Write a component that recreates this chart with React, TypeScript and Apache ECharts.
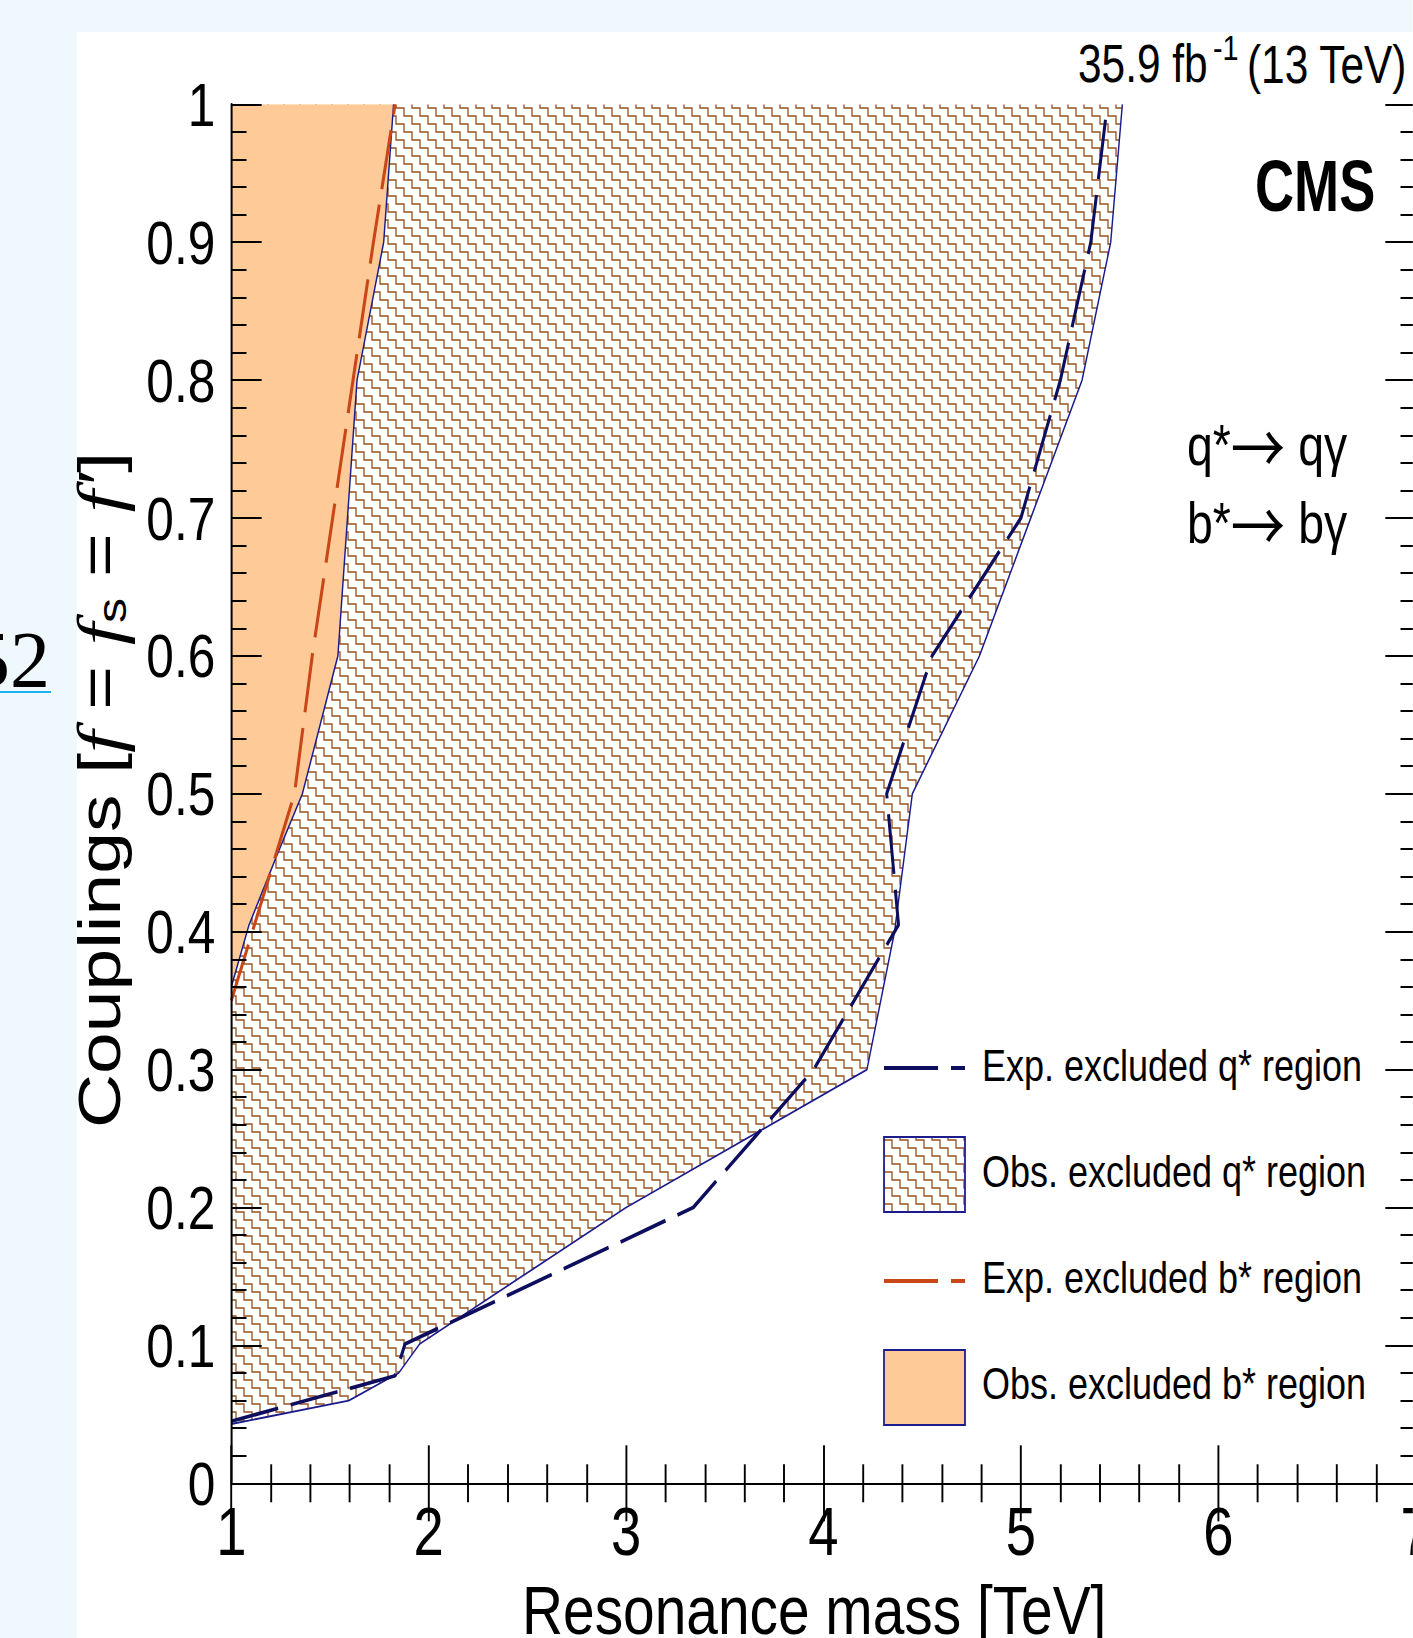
import React, { useEffect, useRef } from 'react';
import * as echarts from 'echarts';

// ---------- data ----------
// Observed excluded q* region boundary (mass TeV, coupling)
const obsQMass = [1.0, 1.595, 1.848, 1.954, 3.0, 4.22, 4.36, 4.45, 4.79, 5.05, 5.31, 5.455, 5.514];
const obsQCoup = [0.043, 0.06, 0.08, 0.101, 0.2, 0.3, 0.4, 0.5, 0.6, 0.7, 0.8, 0.9, 1.0];
// Expected excluded q* region boundary
const expQMass = [1.0, 1.83, 1.88, 3.34, 3.95, 4.38, 4.32, 4.55, 5.0, 5.2, 5.354, 5.438];
const expQCoup = [0.045, 0.078, 0.101, 0.2, 0.3, 0.405, 0.5, 0.6, 0.7, 0.8, 0.9, 1.0];
// Observed excluded b* region boundary
const obsBMass = [1.0, 1.09, 1.23, 1.36, 1.54, 1.637, 1.772, 1.822];
const obsBCoup = [0.36, 0.405, 0.455, 0.5, 0.6, 0.8, 0.9, 1.0];
// Expected excluded b* region boundary
const expBMass = [1.0, 1.32, 1.41, 1.72, 1.83];
const expBCoup = [0.35, 0.5, 0.6, 0.9, 1.0];

const xRange = [1, 7];
const yRange = [0, 1];
const legendLabels = [
  'Exp. excluded q* region',
  'Obs. excluded q* region',
  'Exp. excluded b* region',
  'Obs. excluded b* region',
];

// ---------- styles ----------
// The reference picture is squeezed horizontally; the chart is drawn wider and compressed by K.
const K = 0.8;
const L = (v: number) => v / K; // screen x (px) -> local chart x
const PAGE_W = 1413;
const PAGE_H = 1638;

const SANS = "'Liberation Sans', Arial, Helvetica, sans-serif";
const SERIF = "'Liberation Serif', 'Times New Roman', serif";
const ARROW = "'Noto Sans CJK JP', 'DejaVu Sans', sans-serif";
const NAVY_SOLID = '#1b1b8c';
const NAVY_DASH = '#0e0e5e';
const ORANGE_DASH = '#c94716';
const ORANGE_FILL = '#fdca98';
const HATCH = '#93521f';
const DASH = [60, 16];

const zip = (a: number[], b: number[]) => a.map((v, i) => [v, b[i]]);

const S = 8; // stair step on screen
const SX = S / K;
const TW = 2 * SX;
const TH = 2 * S;
const hx = SX / 2;
const hy = S / 2;
const hatchSvg =
  `<svg xmlns='http://www.w3.org/2000/svg' width='${TW}' height='${TH}'>` +
  `<path d='M${hx} 0V${hy}H${hx + SX}V${hy + S}H${TW}M0 ${hy + S}H${hx}V${TH}' stroke='${HATCH}' stroke-width='1.65' fill='none'/></svg>`;
const hatchURL = 'data:image/svg+xml;charset=utf-8,' + encodeURIComponent(hatchSvg);
const hatchPattern: any = { image: hatchURL, repeat: 'repeat', imageWidth: TW, imageHeight: TH };

function txt(text: string, xScreen: number, y: number, fontSize: number, o: any = {}) {
  const align = o.align || 'left';
  return {
    type: 'text',
    x: L(xScreen),
    y,
    scaleX: o.sx ?? 1,
    z: 30,
    silent: true,
    style: {
      text,
      fontSize,
      fontFamily: o.font || SANS,
      fontWeight: o.bold ? 'bold' : 'normal',
      fill: '#000',
      align,
      textAlign: align,
      verticalAlign: 'middle',
      textVerticalAlign: 'middle',
      rich: o.rich,
    },
  };
}

export default function App() {
  const ref = useRef<HTMLDivElement>(null);
  useEffect(() => {
    if (!ref.current) return;
    const chart = echarts.init(ref.current, undefined, { renderer: 'svg' });

    const obsQ = zip(obsQMass, obsQCoup);
    const expQ = zip(expQMass, expQCoup);
    const obsB = zip(obsBMass, obsBCoup);
    const expB = zip(expBMass, expBCoup);

    const polygonSeries = (name: string, pts: number[][], fill: any, z: number) => ({
      type: 'custom',
      name,
      z,
      clip: true,
      silent: true,
      data: [[xRange[0], yRange[1]]],
      renderItem: (_p: any, api: any) => {
        const points = pts.map((p) => api.coord(p));
        points.push(api.coord([xRange[0], yRange[1]]));
        return { type: 'polygon', shape: { points }, style: { fill, stroke: 'none' } };
      },
    });

    const lineSeries = (name: string, pts: number[][], color: string, width: number, type: any, z: number) => ({
      type: 'line',
      name,
      z,
      data: pts,
      symbol: 'none',
      showSymbol: false,
      silent: true,
      lineStyle: { color, width, type, cap: 'butt' },
    });

    const axisCommon = (lineW: number, tickW: number) => ({
      axisLine: { show: true, lineStyle: { color: '#000', width: lineW } },
      axisTick: { show: true, inside: true, length: 38, lineStyle: { color: '#000', width: tickW } },
      minorTick: { show: true, splitNumber: 5, length: 19, lineStyle: { color: '#000', width: tickW } },
      splitLine: { show: false },
      z: 10,
    });

    const xBase = { type: 'value', min: xRange[0], max: xRange[1], interval: 1, ...axisCommon(2, 2.4) };
    const yBase = { type: 'value', min: yRange[0], max: yRange[1], interval: 0.1, ...axisCommon(2.5, 2) };

    const legendX = L(884);
    const legendW = L(965) - L(884);
    const rows = [1066, 1172, 1278, 1384];
    const arrowRich = {
      t: { fontSize: 58, fontFamily: SANS, fill: '#000', lineHeight: 56 },
      a: { fontSize: 68, fontFamily: ARROW, fill: '#000', lineHeight: 56 },
    };

    const option: any = {
      animation: false,
      backgroundColor: '#eff8fc',
      grid: {
        left: L(231.3),
        top: 104.3,
        width: L(1184.4),
        height: 1379,
        containLabel: false,
        outerBoundsMode: 'none',
      },
      xAxis: [
        {
          ...xBase,
          position: 'bottom',
          axisLabel: { fontSize: 68, color: '#000', fontFamily: SANS, margin: 48, verticalAlign: 'middle' },
        },
        { ...xBase, position: 'top', axisLabel: { show: false } },
      ],
      yAxis: [
        {
          ...yBase,
          position: 'left',
          axisLabel: { fontSize: 62, color: '#000', fontFamily: SANS, margin: L(16), verticalAlign: 'middle' },
        },
        { ...yBase, position: 'right', axisLabel: { show: false } },
      ],
      series: [
        polygonSeries(legendLabels[1], obsQ, hatchPattern, 2),
        polygonSeries(legendLabels[3], obsB, ORANGE_FILL, 3),
        lineSeries('obsQ boundary', obsQ, NAVY_SOLID, 1.8, 'solid', 4),
        lineSeries('obsB boundary', obsB, NAVY_SOLID, 1.8, 'solid', 4),
        lineSeries(legendLabels[0], expQ, NAVY_DASH, 3.8, DASH, 5),
        lineSeries(legendLabels[2], expB, ORANGE_DASH, 3.8, DASH, 5),
      ],
      graphic: [
        { type: 'rect', z: -10, silent: true, shape: { x: L(77), y: 32, width: L(1400), height: 1700 }, style: { fill: '#ffffff' } },
        // fragment of the surrounding page: "52"
        {
          type: 'text', x: L(-30), y: 660, scaleX: 1 / K, z: 30, silent: true,
          style: { text: '52', fontSize: 80, fontFamily: SERIF, fill: '#000', align: 'left', textAlign: 'left', verticalAlign: 'middle', textVerticalAlign: 'middle' },
        },
        { type: 'line', z: 30, silent: true, shape: { x1: 0, y1: 692, x2: L(51), y2: 692 }, style: { stroke: '#1ab2f0', lineWidth: 2 } },
        // luminosity label
        txt('35.9 fb', 1078, 64, 53),
        txt('-1', 1213, 47, 36),
        txt('(13 TeV)', 1247, 65, 53),
        // CMS
        txt('CMS', 1255, 186, 72, { bold: true, sx: 0.94 }),
        // process labels
        txt('{t|q*}{a|\u2192}{t| q\u03b3}', 1187, 445, 58, { rich: arrowRich }),
        txt('{t|b*}{a|\u2192}{t| b\u03b3}', 1187, 523, 58, { rich: arrowRich }),
        // x-axis title
        txt('Resonance mass [TeV]', 522, 1610, 68, { sx: 1.045 }),
        // y-axis title
        {
          type: 'text', x: L(99), y: 790, rotation: Math.PI / 2, z: 30, silent: true,
          style: {
            text: '{n|Couplings [}{i|f}{n| = }{i|f}{s|s}{n| = }{i|f\u2032}{n|]}',
            fill: '#000',
            align: 'center', textAlign: 'center', verticalAlign: 'middle', textVerticalAlign: 'middle',
            rich: {
              n: { fontSize: 75, fontFamily: SANS, fill: '#000', lineHeight: 82 },
              i: { fontSize: 80, fontFamily: SERIF, fontStyle: 'italic', fill: '#000', lineHeight: 82 },
              s: { fontSize: 50, fontFamily: SANS, fill: '#000', lineHeight: 58, verticalAlign: 'bottom' },
            },
          },
        },
        // legend
        { type: 'line', z: 30, silent: true, shape: { x1: legendX, y1: rows[0] + 2, x2: legendX + legendW, y2: rows[0] + 2 }, style: { stroke: NAVY_DASH, lineWidth: 3.8, lineDash: [L(54), L(13)] } },
        { type: 'rect', z: 30, silent: true, shape: { x: legendX, y: 1137, width: legendW, height: 75 }, style: { fill: hatchPattern, stroke: NAVY_SOLID, lineWidth: 2.2 } },
        { type: 'line', z: 30, silent: true, shape: { x1: legendX, y1: rows[2] + 3, x2: legendX + legendW, y2: rows[2] + 3 }, style: { stroke: ORANGE_DASH, lineWidth: 3.8, lineDash: [L(54), L(13)] } },
        { type: 'rect', z: 30, silent: true, shape: { x: legendX, y: 1350, width: legendW, height: 75 }, style: { fill: ORANGE_FILL, stroke: NAVY_SOLID, lineWidth: 2.2 } },
        ...legendLabels.map((l, i) => txt(l, 982, rows[i], 45)),
      ],
    };

    chart.setOption(option);
    return () => chart.dispose();
  }, []);

  return (
    <div style={{ position: 'fixed', left: 0, top: 0, width: PAGE_W, height: PAGE_H, overflow: 'hidden' }}>
      <div
        ref={ref}
        style={{
          position: 'absolute',
          left: 0,
          top: 0,
          width: PAGE_W / K,
          height: PAGE_H,
          transform: `scaleX(${K})`,
          transformOrigin: '0 0',
        }}
      />
    </div>
  );
}
